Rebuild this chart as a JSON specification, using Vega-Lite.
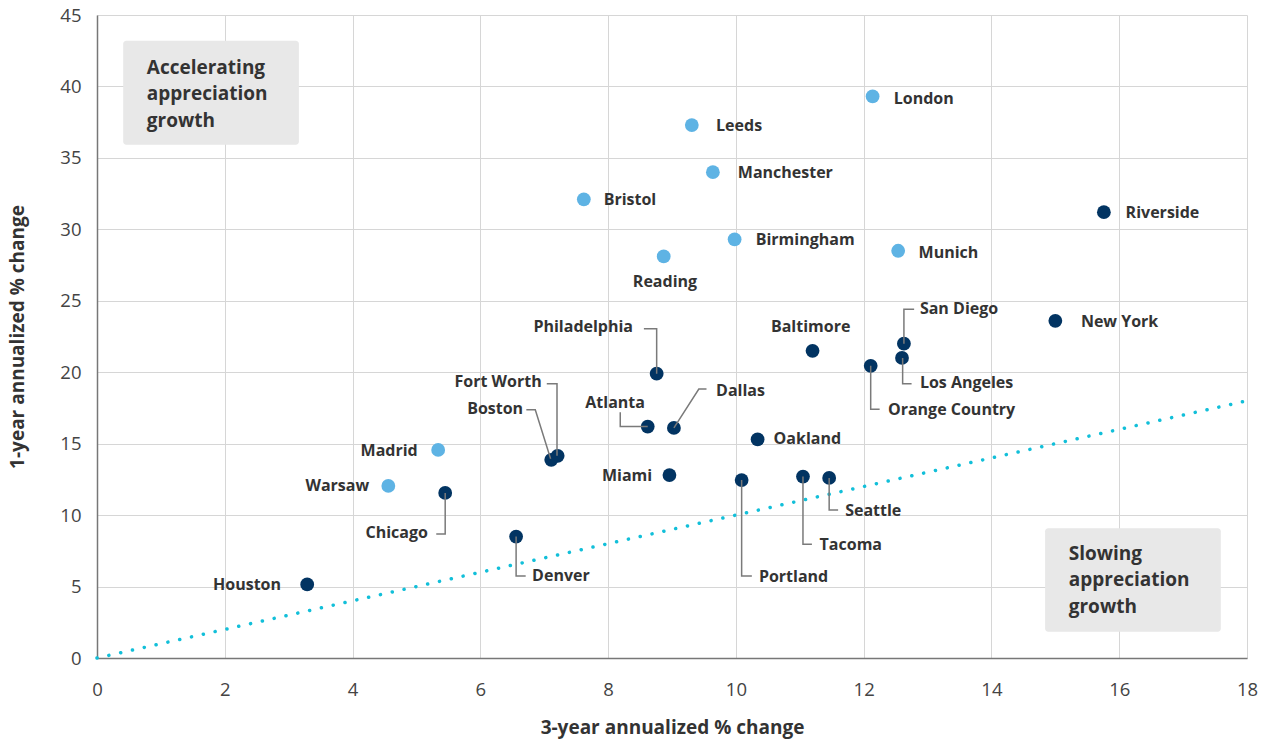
{
  "$schema": "https://vega.github.io/schema/vega-lite/v6.json",
  "width": 1150,
  "height": 643,
  "autosize": {"type": "none"},
  "padding": {"left": 97, "top": 15, "right": 21, "bottom": 84},
  "background": "white",
  "config": {
    "view": {"stroke": null},
    "font": "Open Sans",
    "axis": {
      "grid": true,
      "gridColor": "#d6d6d6",
      "gridWidth": 1,
      "ticks": false,
      "labelFlush": false,
      "domainColor": "#777777",
      "domainWidth": 1.5,
      "labelFont": "Open Sans",
      "labelFontSize": 18.5,
      "labelColor": "#444444",
      "titleFont": "Open Sans",
      "titleFontSize": 19,
      "titleFontWeight": "bold",
      "titleColor": "#333333"
    },
    "axisX": {"labelPadding": 22, "titlePadding": 20},
    "axisY": {"labelPadding": 16, "titlePadding": 32}
  },
  "datasets": {
    "points": [
      {"city": "London", "x": 12.14, "y": 39.3, "group": "Europe", "lx": 12.47, "ly": 39.15, "side": "left"},
      {"city": "Leeds", "x": 9.31, "y": 37.3, "group": "Europe", "lx": 9.69, "ly": 37.25, "side": "left"},
      {"city": "Manchester", "x": 9.64, "y": 34.0, "group": "Europe", "lx": 10.03, "ly": 33.96, "side": "left"},
      {"city": "Bristol", "x": 7.62, "y": 32.1, "group": "Europe", "lx": 7.93, "ly": 32.07, "side": "left"},
      {"city": "Birmingham", "x": 9.98, "y": 29.3, "group": "Europe", "lx": 10.31, "ly": 29.27, "side": "left"},
      {"city": "Munich", "x": 12.54, "y": 28.5, "group": "Europe", "lx": 12.86, "ly": 28.36, "side": "left"},
      {"city": "Reading", "x": 8.87, "y": 28.1, "group": "Europe", "lx": 8.89, "ly": 26.33, "side": "center"},
      {"city": "Madrid", "x": 5.34, "y": 14.56, "group": "Europe", "lx": 5.02, "ly": 14.5, "side": "right"},
      {"city": "Warsaw", "x": 4.56, "y": 12.04, "group": "Europe", "lx": 4.26, "ly": 12.04, "side": "right"},
      {"city": "Riverside", "x": 15.76, "y": 31.2, "group": "US", "lx": 16.1, "ly": 31.16, "side": "left"},
      {"city": "New York", "x": 15.0, "y": 23.6, "group": "US", "lx": 15.4, "ly": 23.53, "side": "left"},
      {"city": "San Diego", "x": 12.63, "y": 22.0, "group": "US", "lx": 12.88, "ly": 24.44, "side": "left"},
      {"city": "Los Angeles", "x": 12.6, "y": 21.0, "group": "US", "lx": 12.88, "ly": 19.26, "side": "left"},
      {"city": "Orange Country", "x": 12.11, "y": 20.45, "group": "US", "lx": 12.38, "ly": 17.37, "side": "left"},
      {"city": "Baltimore", "x": 11.2, "y": 21.5, "group": "US", "lx": 11.17, "ly": 23.18, "side": "center"},
      {"city": "Philadelphia", "x": 8.76, "y": 19.9, "group": "US", "lx": 8.39, "ly": 23.18, "side": "right"},
      {"city": "Atlanta", "x": 8.62, "y": 16.2, "group": "US", "lx": 8.11, "ly": 17.86, "side": "center"},
      {"city": "Dallas", "x": 9.03, "y": 16.1, "group": "US", "lx": 9.69, "ly": 18.7, "side": "left"},
      {"city": "Oakland", "x": 10.34, "y": 15.3, "group": "US", "lx": 10.59, "ly": 15.34, "side": "left"},
      {"city": "Miami", "x": 8.96, "y": 12.8, "group": "US", "lx": 8.69, "ly": 12.75, "side": "right"},
      {"city": "Portland", "x": 10.09, "y": 12.45, "group": "US", "lx": 10.36, "ly": 5.67, "side": "left"},
      {"city": "Tacoma", "x": 11.05, "y": 12.7, "group": "US", "lx": 11.31, "ly": 7.91, "side": "left"},
      {"city": "Seattle", "x": 11.46, "y": 12.6, "group": "US", "lx": 11.71, "ly": 10.29, "side": "left"},
      {"city": "Fort Worth", "x": 7.21, "y": 14.15, "group": "US", "lx": 6.96, "ly": 19.33, "side": "right"},
      {"city": "Boston", "x": 7.11, "y": 13.87, "group": "US", "lx": 6.67, "ly": 17.44, "side": "right"},
      {"city": "Chicago", "x": 5.45, "y": 11.55, "group": "US", "lx": 5.18, "ly": 8.75, "side": "right"},
      {"city": "Denver", "x": 6.56, "y": 8.5, "group": "US", "lx": 6.81, "ly": 5.74, "side": "left"},
      {"city": "Houston", "x": 3.29, "y": 5.15, "group": "US", "lx": 2.88, "ly": 5.11, "side": "right"}
    ],
    "leaders": [
      {"city": "Philadelphia", "seq": 1, "x": 8.56, "y": 23.04},
      {"city": "Philadelphia", "seq": 2, "x": 8.76, "y": 23.04},
      {"city": "Philadelphia", "seq": 3, "x": 8.76, "y": 19.9},
      {"city": "Fort Worth", "seq": 1, "x": 7.04, "y": 19.19},
      {"city": "Fort Worth", "seq": 2, "x": 7.2, "y": 19.19},
      {"city": "Fort Worth", "seq": 3, "x": 7.2, "y": 14.15},
      {"city": "Boston", "seq": 1, "x": 6.72, "y": 17.37},
      {"city": "Boston", "seq": 2, "x": 6.86, "y": 17.37},
      {"city": "Boston", "seq": 3, "x": 7.1, "y": 13.95},
      {"city": "Atlanta", "seq": 1, "x": 8.19, "y": 17.2},
      {"city": "Atlanta", "seq": 2, "x": 8.19, "y": 16.2},
      {"city": "Atlanta", "seq": 3, "x": 8.62, "y": 16.2},
      {"city": "Dallas", "seq": 1, "x": 9.03, "y": 16.1},
      {"city": "Dallas", "seq": 2, "x": 9.42, "y": 18.82},
      {"city": "Dallas", "seq": 3, "x": 9.54, "y": 18.82},
      {"city": "Chicago", "seq": 1, "x": 5.31, "y": 8.68},
      {"city": "Chicago", "seq": 2, "x": 5.45, "y": 8.68},
      {"city": "Chicago", "seq": 3, "x": 5.45, "y": 11.55},
      {"city": "Denver", "seq": 1, "x": 6.56, "y": 8.5},
      {"city": "Denver", "seq": 2, "x": 6.56, "y": 5.74},
      {"city": "Denver", "seq": 3, "x": 6.71, "y": 5.74},
      {"city": "Portland", "seq": 1, "x": 10.09, "y": 12.45},
      {"city": "Portland", "seq": 2, "x": 10.09, "y": 5.74},
      {"city": "Portland", "seq": 3, "x": 10.25, "y": 5.74},
      {"city": "Tacoma", "seq": 1, "x": 11.05, "y": 12.7},
      {"city": "Tacoma", "seq": 2, "x": 11.05, "y": 7.96},
      {"city": "Tacoma", "seq": 3, "x": 11.19, "y": 7.96},
      {"city": "Seattle", "seq": 1, "x": 11.46, "y": 12.6},
      {"city": "Seattle", "seq": 2, "x": 11.46, "y": 10.36},
      {"city": "Seattle", "seq": 3, "x": 11.6, "y": 10.36},
      {"city": "San Diego", "seq": 1, "x": 12.63, "y": 22.0},
      {"city": "San Diego", "seq": 2, "x": 12.63, "y": 24.4},
      {"city": "San Diego", "seq": 3, "x": 12.79, "y": 24.4},
      {"city": "Los Angeles", "seq": 1, "x": 12.61, "y": 21.0},
      {"city": "Los Angeles", "seq": 2, "x": 12.61, "y": 19.19},
      {"city": "Los Angeles", "seq": 3, "x": 12.75, "y": 19.19},
      {"city": "Orange Country", "seq": 1, "x": 12.11, "y": 20.45},
      {"city": "Orange Country", "seq": 2, "x": 12.11, "y": 17.4},
      {"city": "Orange Country", "seq": 3, "x": 12.25, "y": 17.4}
    ],
    "boxes": [
      {"label": "Accelerating\nappreciation\ngrowth", "x": 0.41, "x2": 3.16, "y": 43.2, "y2": 35.92, "tx": 0.78, "ty": 41.3},
      {"label": "Slowing\nappreciation\ngrowth", "x": 14.84, "x2": 17.59, "y": 9.08, "y2": 1.84, "tx": 15.21, "ty": 7.28}
    ],
    "parity": [
      {"x": 0, "y": 0},
      {"x": 18, "y": 18}
    ]
  },
  "layer": [
    {
      "data": {"name": "boxes"},
      "mark": {"type": "rect", "color": "#e8e8e8", "cornerRadius": 3},
      "encoding": {
        "x": {"field": "x", "type": "quantitative", "scale": {"domain": [0, 18], "nice": false, "zero": false}, "axis": {"values": [0, 2, 4, 6, 8, 10, 12, 14, 16, 18], "format": "d"}, "title": "3-year annualized % change"},
        "x2": {"field": "x2"},
        "y": {"field": "y", "type": "quantitative", "scale": {"domain": [0, 45], "nice": false, "zero": false}, "axis": {"values": [0, 5, 10, 15, 20, 25, 30, 35, 40, 45], "format": "d"}, "title": "1-year annualized % change"},
        "y2": {"field": "y2"}
      }
    },
    {
      "data": {"name": "boxes"},
      "mark": {"type": "text", "align": "left", "baseline": "middle", "lineBreak": "\n", "lineHeight": 26.5, "fontSize": 19, "fontWeight": "bold", "color": "#333333"},
      "encoding": {
        "x": {"field": "tx", "type": "quantitative", "title": "3-year annualized % change"},
        "y": {"field": "ty", "type": "quantitative", "title": "1-year annualized % change"},
        "text": {"field": "label"}
      }
    },
    {
      "data": {"name": "parity"},
      "mark": {"type": "line", "color": "#12bfd9", "strokeWidth": 3.5, "strokeCap": "round", "strokeDash": [0.1, 12]},
      "encoding": {
        "x": {"field": "x", "type": "quantitative", "title": "3-year annualized % change"},
        "y": {"field": "y", "type": "quantitative", "title": "1-year annualized % change"}
      }
    },
    {
      "data": {"name": "points"},
      "mark": {"type": "circle", "size": 190, "opacity": 1},
      "encoding": {
        "x": {"field": "x", "type": "quantitative", "title": "3-year annualized % change"},
        "y": {"field": "y", "type": "quantitative", "title": "1-year annualized % change"},
        "color": {"field": "group", "type": "nominal", "scale": {"domain": ["Europe", "US"], "range": ["#5eb3e4", "#023462"]}, "legend": null}
      }
    },
    {
      "data": {"name": "leaders"},
      "mark": {"type": "line", "color": "#7a7a7a", "strokeWidth": 1.5},
      "encoding": {
        "x": {"field": "x", "type": "quantitative", "title": "3-year annualized % change"},
        "y": {"field": "y", "type": "quantitative", "title": "1-year annualized % change"},
        "detail": {"field": "city"},
        "order": {"field": "seq"}
      }
    },
    {
      "data": {"name": "points"},
      "transform": [{"filter": "datum.side === 'left'"}],
      "mark": {"type": "text", "align": "left", "baseline": "middle", "fontSize": 16, "fontWeight": "bold", "color": "#333333"},
      "encoding": {
        "x": {"field": "lx", "type": "quantitative", "title": "3-year annualized % change"},
        "y": {"field": "ly", "type": "quantitative", "title": "1-year annualized % change"},
        "text": {"field": "city"}
      }
    },
    {
      "data": {"name": "points"},
      "transform": [{"filter": "datum.side === 'right'"}],
      "mark": {"type": "text", "align": "right", "baseline": "middle", "fontSize": 16, "fontWeight": "bold", "color": "#333333"},
      "encoding": {
        "x": {"field": "lx", "type": "quantitative", "title": "3-year annualized % change"},
        "y": {"field": "ly", "type": "quantitative", "title": "1-year annualized % change"},
        "text": {"field": "city"}
      }
    },
    {
      "data": {"name": "points"},
      "transform": [{"filter": "datum.side === 'center'"}],
      "mark": {"type": "text", "align": "center", "baseline": "middle", "fontSize": 16, "fontWeight": "bold", "color": "#333333"},
      "encoding": {
        "x": {"field": "lx", "type": "quantitative", "title": "3-year annualized % change"},
        "y": {"field": "ly", "type": "quantitative", "title": "1-year annualized % change"},
        "text": {"field": "city"}
      }
    }
  ]
}
